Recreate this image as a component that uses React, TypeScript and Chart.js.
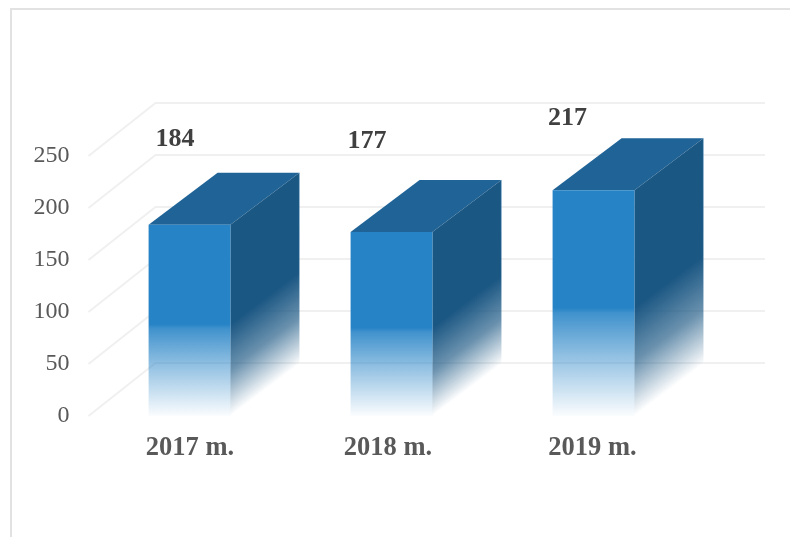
import React, { useEffect, useRef } from "react";
import { Chart, registerables } from "chart.js";

Chart.register(...registerables);

const categories = ["2017 m.", "2018 m.", "2019 m."];
const values = [184, 177, 217];
const valueLabels = ["184", "177", "217"];
const yTicks = [0, 50, 100, 150, 200, 250];

const FONT = '"Liberation Serif", "Times New Roman", serif';
const DEPTH_X = 69;
const DEPTH_Y = 52;
const WALL_DX = 67;
const WALL_DY = 53;
const WALL_RIGHT = 765;
const LABEL_DX = [-14.5, -24.5, -26];
const LABEL_DY = [-85, -91, -72];
const CAT_DX = [0.5, -3.5, -1];
const CAT_Y = 448;
const FRONT = "38,131,198";
const SIDE = "27,87,131";
const TOP = "#1f6397";
const FADE = 0.48;

const threeD = {
  id: "threeD",
  beforeDatasetsDraw(chart: any) {
    const { ctx, scales } = chart;
    const y = scales.y;
    const left = chart.chartArea.left;
    ctx.save();
    ctx.strokeStyle = "#f0f0f0";
    ctx.lineWidth = 2;
    y.ticks.forEach((t: any) => {
      const py = y.getPixelForValue(t.value);
      ctx.beginPath();
      ctx.moveTo(left, py);
      ctx.lineTo(left + WALL_DX, py - WALL_DY);
      ctx.lineTo(WALL_RIGHT, py - WALL_DY);
      ctx.stroke();
    });
    const meta = chart.getDatasetMeta(0);
    meta.data.forEach((bar: any) => {
      const l = bar.x - bar.width / 2;
      const r = bar.x + bar.width / 2;
      const t = bar.y;
      const b = bar.base;
      // top face
      ctx.fillStyle = TOP;
      ctx.beginPath();
      ctx.moveTo(l, t);
      ctx.lineTo(l + DEPTH_X, t - DEPTH_Y);
      ctx.lineTo(r + DEPTH_X, t - DEPTH_Y);
      ctx.lineTo(r, t);
      ctx.closePath();
      ctx.fill();
      // side face, fading towards its lower edge
      const len = Math.hypot(DEPTH_X, DEPTH_Y);
      const dist = (b - t) * FADE * (DEPTH_X / len);
      const nx = -DEPTH_Y / len;
      const ny = -DEPTH_X / len;
      const g = ctx.createLinearGradient(r, b, r + nx * dist, b + ny * dist);
      g.addColorStop(0, `rgba(${SIDE},0)`);
      g.addColorStop(0.5, `rgba(${SIDE},0.65)`);
      g.addColorStop(1, `rgba(${SIDE},1)`);
      ctx.fillStyle = g;
      ctx.beginPath();
      ctx.moveTo(r, t);
      ctx.lineTo(r + DEPTH_X, t - DEPTH_Y);
      ctx.lineTo(r + DEPTH_X, b - DEPTH_Y);
      ctx.lineTo(r, b);
      ctx.closePath();
      ctx.fill();
      // pale back edge of the side face
      const eg = ctx.createLinearGradient(0, t - DEPTH_Y, 0, b - DEPTH_Y);
      eg.addColorStop(0, "rgba(120,170,210,0.45)");
      eg.addColorStop(1, "rgba(120,170,210,0)");
      ctx.strokeStyle = eg;
      ctx.lineWidth = 1;
      ctx.beginPath();
      ctx.moveTo(r + DEPTH_X, t - DEPTH_Y);
      ctx.lineTo(r + DEPTH_X, b - DEPTH_Y);
      ctx.stroke();
    });
    ctx.restore();
  },
  afterDatasetsDraw(chart: any) {
    const { ctx } = chart;
    const meta = chart.getDatasetMeta(0);
    ctx.save();
    ctx.textAlign = "center";
    ctx.textBaseline = "middle";
    meta.data.forEach((bar: any, i: number) => {
      ctx.font = `bold 26px ${FONT}`;
      ctx.fillStyle = "#404040";
      ctx.fillText(valueLabels[i], bar.x + LABEL_DX[i], bar.y + LABEL_DY[i]);
      ctx.font = `bold 26.5px ${FONT}`;
      ctx.fillStyle = "#595959";
      ctx.fillText(categories[i], chart.scales.x.getPixelForTick(i) + CAT_DX[i], CAT_Y);
    });
    ctx.restore();
  },
};

export default function App() {
  const ref = useRef<HTMLCanvasElement>(null);
  useEffect(() => {
    const chart = new Chart(ref.current as HTMLCanvasElement, {
      type: "bar",
      plugins: [threeD],
      data: {
        labels: categories,
        datasets: [
          {
            data: values,
            categoryPercentage: 1,
            barPercentage: 0.405,
            borderWidth: 0,
            backgroundColor: (c: any) => {
              const s = c.chart.scales.y;
              const v = values[c.dataIndex];
              const top = s ? s.getPixelForValue(v) : NaN;
              const base = s ? s.getPixelForValue(0) : NaN;
              if (!Number.isFinite(top) || !Number.isFinite(base)) return `rgb(${FRONT})`;
              const g = c.chart.ctx.createLinearGradient(0, base, 0, top);
              g.addColorStop(0, `rgba(${FRONT},0.02)`);
              g.addColorStop(FADE * 0.55, `rgba(${FRONT},0.5)`);
              g.addColorStop(FADE * 0.95, `rgba(${FRONT},0.88)`);
              g.addColorStop(FADE, `rgba(${FRONT},1)`);
              g.addColorStop(1, `rgba(${FRONT},1)`);
              return g;
            },
          },
        ],
      },
      options: {
        responsive: false,
        animation: false,
        layout: { padding: { top: 156, right: 95.5, left: 0, bottom: 0 } },
        plugins: { legend: { display: false }, tooltip: { enabled: false } },
        scales: {
          x: {
            grid: { display: false, drawTicks: false },
            border: { display: false },
            afterFit: (s: any) => {
              s.height = 121;
            },
            ticks: { display: false },
          },
          y: {
            min: 0,
            max: 250,
            grid: { display: false, drawTicks: false },
            border: { display: false },
            afterFit: (s: any) => {
              s.width = 88.5;
            },
            afterBuildTicks: (s: any) => {
              s.ticks = yTicks.map((value) => ({ value }));
            },
            ticks: {
              padding: 19,
              color: "#595959",
              font: { family: FONT, size: 24 },
            },
          },
        },
      },
    } as any);
    return () => chart.destroy();
  }, []);
  return (
    <div style={{ position: "fixed", inset: 0, overflow: "hidden", background: "#fff" }}>
      <div
        style={{
          position: "absolute",
          left: 10,
          top: 8,
          right: -10,
          bottom: -10,
          borderLeft: "2px solid #e2e2e2",
          borderTop: "2px solid #e2e2e2",
        }}
      />
      <canvas
        ref={ref}
        width={790}
        height={537}
        style={{ position: "absolute", left: 0, top: 0, display: "block" }}
      />
    </div>
  );
}
